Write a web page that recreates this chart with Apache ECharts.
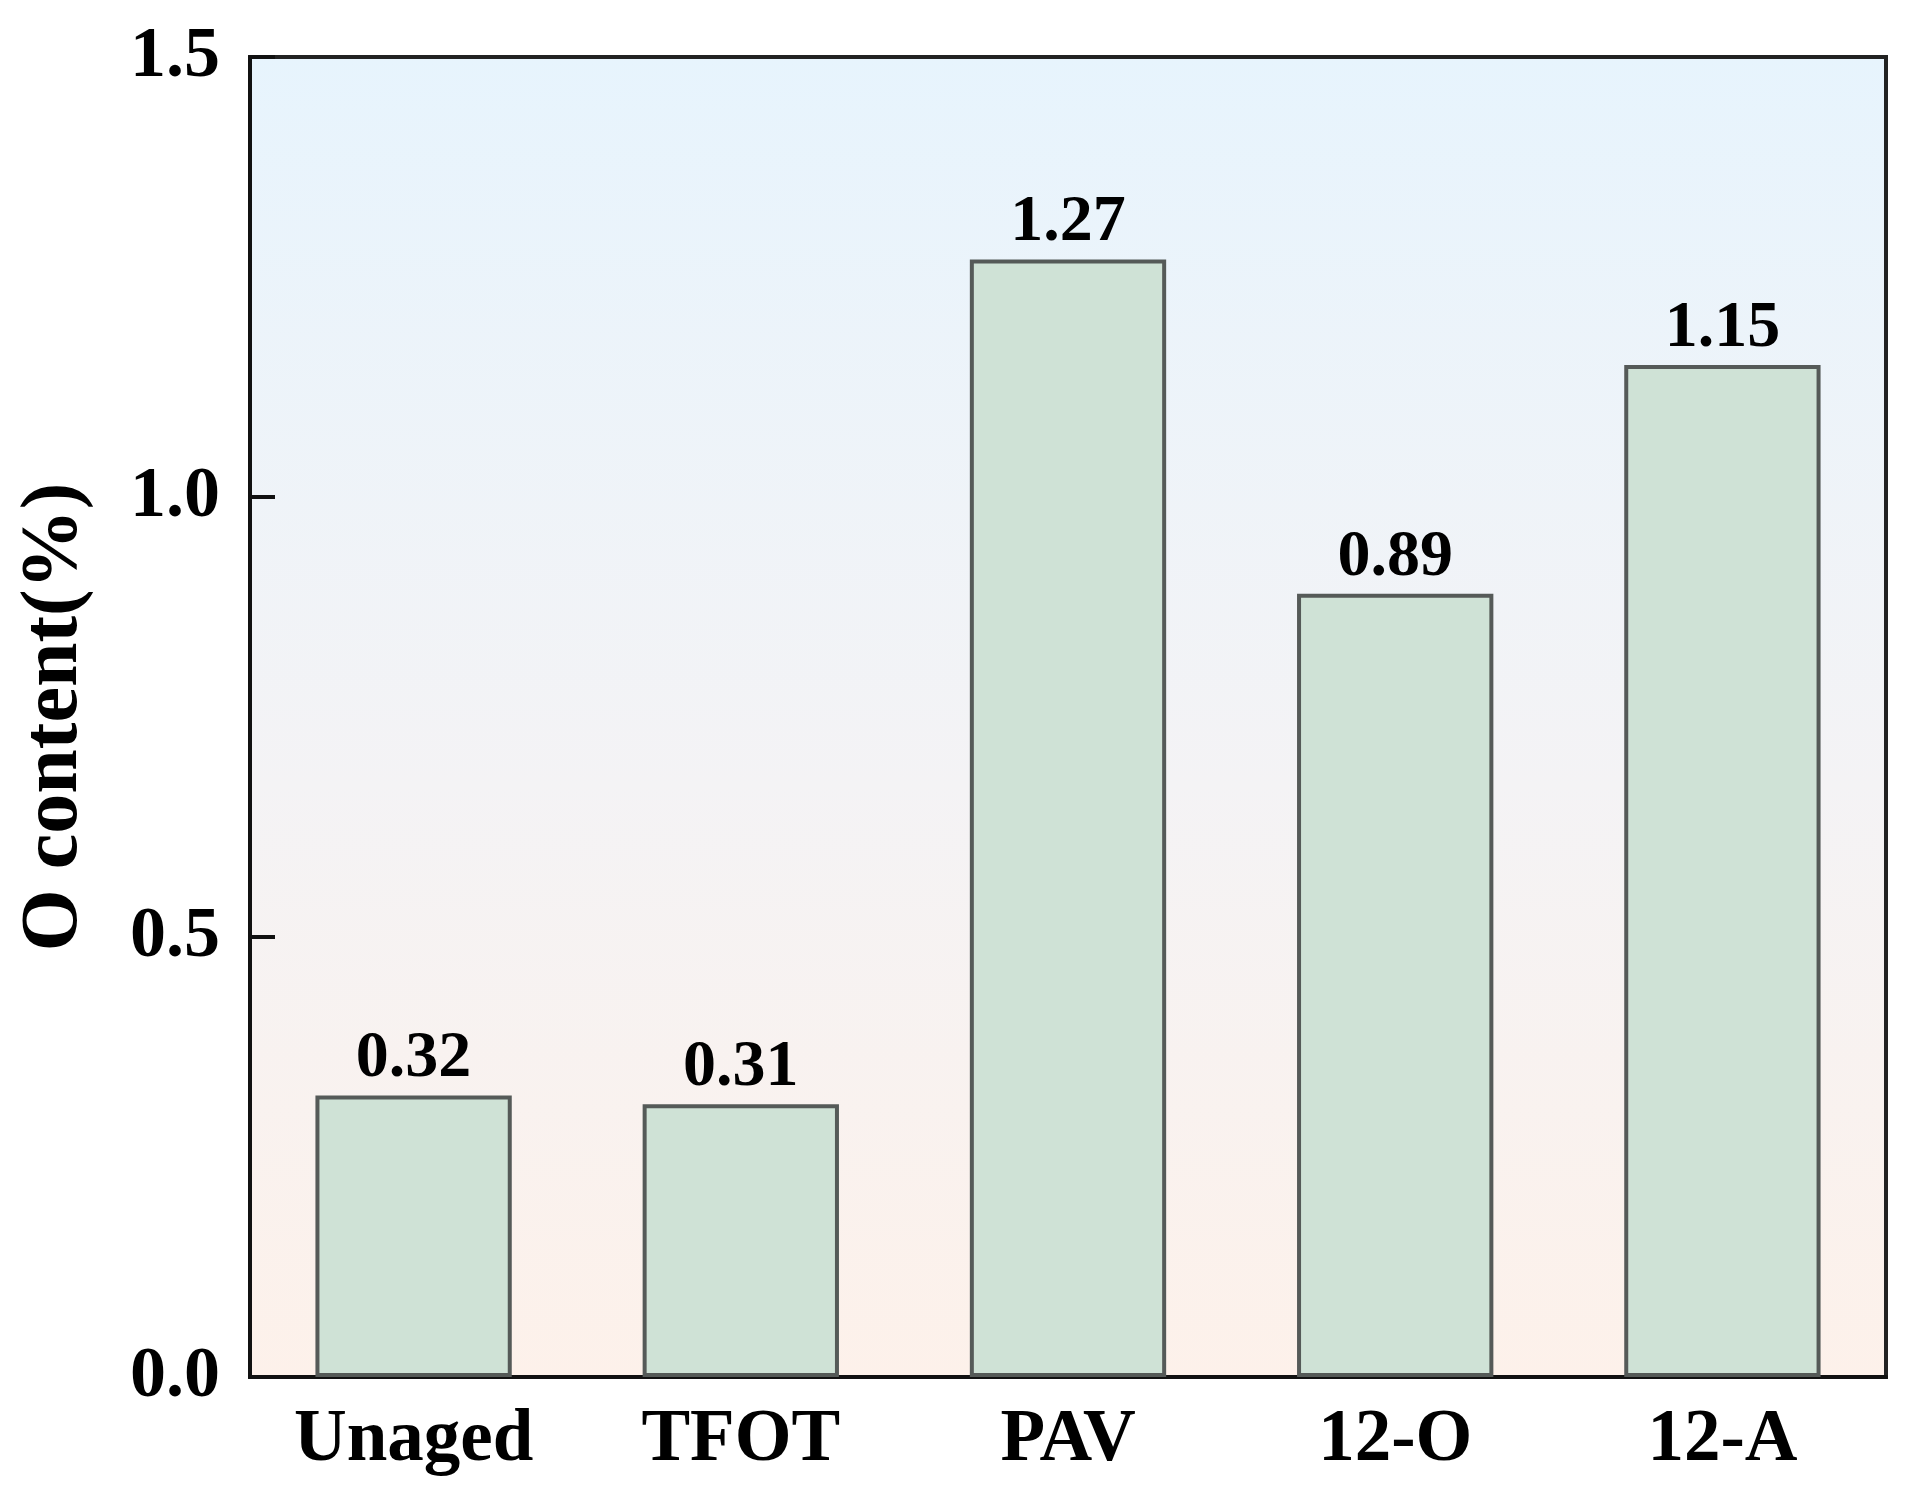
<!DOCTYPE html>
<html>
<head>
<meta charset="utf-8">
<script src="https://cdn.jsdelivr.net/npm/echarts@6/dist/echarts.min.js"></script>
<style>html,body{margin:0;padding:0;background:#fff;}#c{width:1914px;height:1494px;}</style>
</head>
<body>
<div id="c"></div>
<script>
const categories = ['Unaged', 'TFOT', 'PAV', '12-O', '12-A'];
const oContent = [0.32, 0.31, 1.27, 0.89, 1.15];
const yTicks = [0.0, 0.5, 1.0, 1.5];

const chart = echarts.init(document.getElementById('c'));
const font = '"Liberation Serif", "Times New Roman", serif';
chart.setOption({
  animation: false,
  grid: {
    left: 250, right: 28, top: 57, bottom: 117,
    show: true,
    borderColor: '#222',
    borderWidth: 4,
    backgroundColor: new echarts.graphic.LinearGradient(0, 0, 0, 1, [
      { offset: 0, color: '#e7f4fd' },
      { offset: 0.55, color: '#f4f3f5' },
      { offset: 1, color: '#fdf1ea' }
    ])
  },
  xAxis: {
    type: 'category',
    data: categories,
    axisLine: { show: true, lineStyle: { color: '#111', width: 4 } },
    axisTick: { show: false },
    axisLabel: { fontFamily: font, fontWeight: 'bold', fontSize: 73, color: '#000', margin: 28 }
  },
  yAxis: {
    type: 'value',
    min: 0, max: 1.5, interval: 0.5,
    name: 'O content(%)',
    nameLocation: 'middle',
    nameGap: 155,
    nameRotate: 90,
    nameTextStyle: { fontFamily: font, fontWeight: 'bold', fontSize: 80, color: '#000' },
    axisLine: { show: true, lineStyle: { color: '#111', width: 4 } },
    axisTick: { show: true, inside: true, length: 25, lineStyle: { color: '#111', width: 4 } },
    splitLine: { show: false },
    axisLabel: {
      fontFamily: font, fontWeight: 'bold', fontSize: 72, color: '#000', margin: 30,
      formatter: v => (yTicks.includes(v) ? v.toFixed(1) : '')
    }
  },
  series: [{
    type: 'bar',
    data: oContent,
    barWidth: '60%',
    itemStyle: { color: '#cfe2d6', borderColor: '#555a58', borderWidth: 4 },
    label: {
      show: true, position: 'top', distance: 3,
      fontFamily: font, fontWeight: 'bold', fontSize: 66, color: '#000',
      formatter: p => p.value.toFixed(2)
    }
  }]
});
</script>
</body>
</html>
